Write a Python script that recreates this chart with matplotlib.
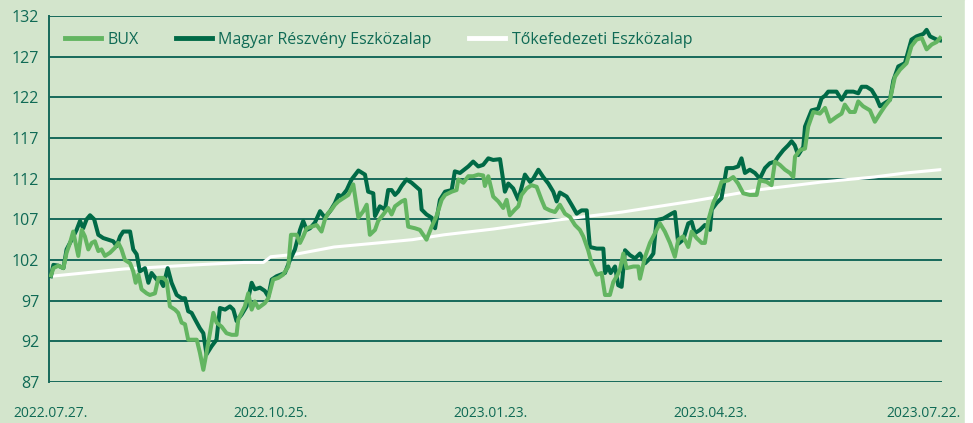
import pandas as pd
import matplotlib
matplotlib.use('Agg')
import matplotlib.pyplot as plt
import matplotlib.transforms as mtransforms
from matplotlib.patches import Rectangle

# data: days since 2022-07-27, index values
start = pd.Timestamp('2022-07-27')

bux_days = [0, 1.0, 3.0, 5.1, 6.4, 7.8, 9.1, 11.2, 12.6, 13.9, 15.3, 16.7, 18.0, 19.4, 20.7,
            22.1, 24.2, 26.2, 27.6, 28.9, 30.3, 32.4, 33.7, 34.7, 35.8, 37.1, 39.2, 40.5, 42.6,
            44.0, 46.0, 47.4, 48.7, 50.8, 52.1, 53.5, 54.9, 56.2, 59.7, 61.0, 62.4, 63.7, 65.1,
            66.5, 67.8, 69.9, 71.9, 74.0, 76.0, 76.7, 79.4, 80.8, 82.2, 83.5, 84.9, 87.6, 89.0,
            91.0, 93.1, 95.1, 97.2, 98.3, 100.6, 102.0, 103.3, 104.7, 106.7, 108.8, 110.8, 112.2,
            113.6, 114.9, 116.3, 117.7, 119.7, 121.8, 123.8, 125.9, 127.9, 129.3, 130.6, 132.7,
            134.0, 136.1, 138.1, 139.5, 140.9, 143.6, 145.0, 146.3, 149.1, 151.1, 153.8, 155.9,
            157.9, 160.0, 161.4, 164.1, 166.1, 166.8, 168.9, 170.9, 172.9, 175.0, 177.0, 177.7,
            179.1, 181.1, 183.2, 185.2, 186.6, 187.9, 190.0, 191.4, 192.7, 194.8, 196.8, 198.9,
            200.9, 202.3, 204.3, 206.4, 208.4, 210.5, 212.5, 214.6, 216.6, 218.0, 220.0, 221.4,
            223.5, 225.5, 226.9, 228.9, 230.3, 231.7, 233.0, 234.4, 235.7, 238.5, 240.5, 241.2,
            243.3, 245.3, 248.0, 249.4, 251.4, 253.5, 255.5, 256.9, 258.9, 261.0, 262.4, 264.4,
            266.5, 267.8, 269.2, 271.2, 273.3, 274.6, 277.4, 279.4, 281.4, 283.5, 286.2, 289.0,
            290.3, 293.1, 295.1, 296.5, 298.5, 300.6, 302.6, 304.0, 304.7, 306.7, 308.8, 310.1,
            312.2, 314.9, 317.0, 319.0, 321.7, 323.8, 325.1, 327.2, 329.2, 330.6, 332.6, 335.4,
            337.4, 339.5, 341.5, 343.6, 345.6, 347.7, 350.4, 352.4, 354.5, 356.6, 358.6, 360.7,
            362.7, 364.1]
bux = [100.1, 101.0, 101.3, 101.0, 102.9, 104.1, 105.5, 102.5, 105.7, 104.9, 103.3, 104.1, 104.3,
       103.1, 103.3, 102.5, 102.9, 103.5, 104.1, 103.3, 102.0, 101.6, 100.6, 99.2, 100.2, 98.4,
       97.9, 97.7, 97.9, 99.8, 99.8, 99.4, 96.3, 95.9, 95.5, 94.3, 94.1, 92.2, 92.2, 90.6, 88.5,
       90.6, 93.0, 95.5, 94.3, 93.8, 93.0, 92.8, 92.8, 94.7, 96.3, 97.9, 95.9, 96.9, 96.1, 96.7,
       97.3, 99.6, 99.8, 100.2, 101.2, 105.1, 105.1, 104.1, 104.9, 105.9, 106.1, 106.3, 105.5,
       107.0, 107.8, 108.2, 108.8, 109.2, 109.6, 110.0, 111.3, 107.2, 108.0, 108.8, 105.1, 105.7,
       106.8, 107.6, 108.4, 107.6, 108.6, 109.2, 109.4, 106.1, 105.9, 105.7, 104.5, 106.1, 107.4,
       109.4, 110.0, 110.4, 110.6, 111.9, 111.5, 112.3, 112.3, 112.5, 112.4, 111.1, 112.3, 109.8,
       109.2, 108.4, 109.4, 107.5, 108.2, 108.6, 110.0, 110.8, 111.2, 111.0, 109.4, 108.4, 108.1,
       107.9, 108.8, 107.7, 107.3, 106.3, 105.7, 104.9, 103.2, 101.6, 100.2, 100.4, 97.7, 97.7,
       99.3, 100.0, 100.8, 102.8, 101.0, 101.2, 101.2, 99.7, 102.4, 104.1, 105.7, 106.5, 105.5,
       104.1, 102.4, 104.5, 104.9, 103.6, 105.5, 104.7, 104.1, 104.1, 106.9, 109.0, 110.4, 111.6,
       111.8, 112.2, 111.4, 110.2, 110.0, 110.0, 111.8, 111.6, 111.2, 114.1, 113.7, 113.1, 112.7,
       112.2, 114.7, 115.5, 115.7, 118.4, 120.2, 120.0, 120.7, 119.0, 119.6, 120.0, 121.1, 120.2,
       120.2, 121.5, 120.9, 120.4, 119.0, 120.0, 120.9, 121.7, 124.5, 125.4, 126.2, 128.3, 129.1,
       129.3, 127.9, 128.5, 128.8, 129.3]

mre_days = [0, 1.0, 3.0, 5.1, 6.4, 8.5, 10.5, 11.9, 13.2, 14.6, 16.0, 17.7, 19.4, 21.4, 23.5,
            25.5, 26.9, 28.3, 29.6, 32.4, 33.7, 35.1, 36.4, 38.5, 39.9, 41.2, 43.3, 44.6, 46.0,
            47.8, 49.4, 51.5, 53.5, 54.9, 56.2, 57.6, 59.0, 61.0, 62.4, 63.7, 65.8, 67.8, 69.2,
            71.3, 73.3, 74.7, 76.0, 78.1, 80.1, 82.2, 83.5, 85.6, 87.6, 89.0, 90.4, 92.4, 95.8,
            97.9, 99.9, 102.0, 103.3, 104.7, 106.1, 108.1, 110.2, 112.2, 114.3, 116.3, 117.7,
            119.0, 121.1, 123.1, 125.9, 128.6, 129.9, 132.0, 132.7, 134.7, 136.8, 138.1, 139.5,
            140.9, 142.2, 143.6, 145.6, 147.7, 151.1, 151.8, 153.8, 155.9, 157.3, 159.3, 161.4,
            164.1, 165.4, 167.5, 170.9, 172.9, 175.0, 177.0, 179.1, 181.1, 183.9, 185.9, 187.3,
            189.3, 191.4, 194.1, 196.2, 197.5, 199.6, 201.6, 203.7, 205.7, 207.1, 208.4, 211.2,
            213.2, 215.3, 217.3, 219.4, 220.7, 223.5, 226.2, 226.9, 228.2, 229.2, 231.0, 232.3,
            233.7, 235.1, 237.1, 239.2, 241.2, 243.3, 245.3, 246.7, 248.0, 250.8, 254.2, 255.5,
            256.9, 258.9, 261.0, 262.4, 263.7, 265.8, 267.8, 269.9, 270.6, 272.6, 274.6, 276.7,
            279.4, 281.4, 282.8, 284.2, 286.2, 288.3, 290.3, 292.4, 294.4, 296.5, 297.8, 299.9,
            301.9, 303.3, 304.6, 306.0, 308.1, 308.8, 311.5, 314.2, 315.6, 317.0, 318.3, 321.7,
            323.8, 325.8, 328.6, 330.6, 332.0, 334.0, 336.1, 338.1, 339.5, 341.5, 343.6, 345.0,
            347.0, 349.7, 352.4, 354.5, 357.3, 358.6, 360.0, 362.7, 364.1]
mre = [100.0, 101.4, 101.3, 101.0, 103.3, 104.5, 105.7, 106.8, 105.9, 107.0, 107.5, 107.0, 105.1,
       104.7, 104.5, 104.3, 103.7, 104.9, 105.5, 105.5, 103.3, 102.7, 100.6, 101.0, 99.2, 100.4,
       99.6, 99.6, 98.8, 101.0, 99.2, 97.7, 97.3, 97.3, 95.7, 95.5, 94.7, 93.6, 93.0, 90.4, 91.4,
       92.2, 96.1, 95.9, 96.3, 95.9, 94.5, 95.3, 96.3, 99.2, 98.4, 98.6, 98.2, 97.5, 99.6, 100.0,
       100.4, 102.0, 103.3, 105.7, 106.8, 105.7, 105.9, 106.6, 108.0, 107.2, 108.0, 109.0, 110.0,
       109.8, 110.6, 111.9, 113.0, 112.5, 110.4, 110.2, 107.4, 108.6, 108.2, 110.6, 110.6, 110.0,
       110.4, 111.1, 111.9, 111.5, 110.6, 108.2, 107.6, 107.2, 105.9, 109.4, 110.4, 110.6, 112.9,
       112.7, 113.5, 114.1, 113.5, 113.7, 114.5, 114.3, 114.4, 110.4, 111.4, 110.8, 109.4, 112.5,
       111.6, 112.0, 113.1, 112.2, 111.4, 110.4, 109.2, 110.3, 109.8, 108.8, 107.7, 108.1, 108.1,
       103.6, 103.4, 103.4, 100.4, 101.2, 100.4, 101.2, 98.9, 98.7, 103.2, 102.6, 102.2, 102.8,
       101.6, 102.2, 102.8, 106.9, 107.1, 107.7, 107.9, 104.0, 104.5, 106.5, 106.7, 105.3, 105.7,
       106.3, 105.7, 108.2, 109.0, 109.6, 113.3, 113.3, 113.5, 114.5, 112.7, 113.1, 112.7, 112.0,
       113.3, 113.9, 114.1, 114.7, 115.5, 116.1, 116.6, 116.1, 114.9, 115.9, 118.4, 120.4, 120.6,
       121.9, 122.2, 122.7, 122.7, 121.7, 122.7, 122.7, 122.5, 123.3, 123.3, 122.9, 121.9, 120.9,
       121.3, 121.7, 124.1, 125.8, 126.2, 129.1, 129.5, 129.8, 130.3, 129.5, 129.1, 129.0]

tfe_days = [0, 30, 59, 79, 87, 90, 100, 116, 134, 148, 161, 181, 207, 234, 262, 289, 316, 337,
            350, 364]
tfe = [100.0, 100.9, 101.4, 101.7, 101.7, 102.4, 102.7, 103.6, 104.1, 104.5, 105.1, 105.8,
       106.9, 107.9, 109.2, 110.6, 111.6, 112.2, 112.7, 113.1]

tick_days = [0, 90, 180, 270, 360]
tick_labels = ['2022.07.27.', '2022.10.25.', '2023.01.23.', '2023.04.23.', '2023.07.22.']
y_ticks = [87, 92, 97, 102, 107, 112, 117, 122, 127, 132]

BG = '#d3e5cc'
LIGHT = '#63b561'
DARK = '#006a46'
GRID = '#16695a'
TXT = '#0f6a55'

plt.rcParams['font.family'] = ['Open Sans', 'DejaVu Sans']


def to_dates(days):
    return start + pd.to_timedelta(days, unit='D')


fig = plt.figure(figsize=(9.73, 4.23), dpi=100, facecolor=BG)
ax = fig.add_axes([49 / 973, 1 - 382 / 423, (942 - 49) / 973, (382 - 16) / 423])
ax.set_facecolor(BG)

ax.plot(to_dates(tfe_days), tfe, color='white', lw=2.2, label='Tőkefedezeti Eszközalap', zorder=3)
ax.plot(to_dates(mre_days), mre, color=DARK, lw=2.9, label='Magyar Részvény Eszközalap', zorder=4)
ax.plot(to_dates(bux_days), bux, color=LIGHT, lw=2.9, label='BUX', zorder=5)

ax.set_ylim(87, 132)
ax.set_yticks(y_ticks)
ax.set_xlim(to_dates([-0.8])[0], to_dates([364.9])[0])
ax.set_xticks(to_dates(tick_days))
ax.set_xticklabels(tick_labels)

ax.grid(True, axis='y', color=GRID, lw=1.4)
ax.set_axisbelow(True)
for s in ['top', 'right', 'bottom']:
    ax.spines[s].set_visible(False)
ax.spines['left'].set_color(GRID)
ax.spines['left'].set_linewidth(1.4)
ax.tick_params(axis='y', length=0, pad=7, labelsize=11.5, labelcolor=TXT)
ax.tick_params(axis='x', length=0, pad=17, labelsize=10, labelcolor=TXT)

# last date label sits a bit left so it stays inside the picture
last = ax.get_xticklabels()[-1]
last.set_transform(last.get_transform() +
                   mtransforms.ScaledTranslation(-5 / 72, 0, fig.dpi_scale_trans))

handles, labels = ax.get_legend_handles_labels()
order = [2, 1, 0]
leg = ax.legend([handles[i] for i in order], [labels[i] for i in order], ncol=3,
                loc='upper left', bbox_to_anchor=(0.0, 1.0), frameon=False,
                fontsize=11.5, handlelength=2.25, columnspacing=2.35, handletextpad=0.4,
                borderaxespad=0.6)
for t in leg.get_texts():
    t.set_color(TXT)
for h in leg.get_lines():
    h.set_linewidth(3.5)

# white strip on the right edge like the reference
fig.patches.append(Rectangle((965 / 973, 0), 8 / 973, 1, transform=fig.transFigure,
                             color='white', zorder=-1))

fig.savefig('out.png', dpi=100, facecolor=BG)
